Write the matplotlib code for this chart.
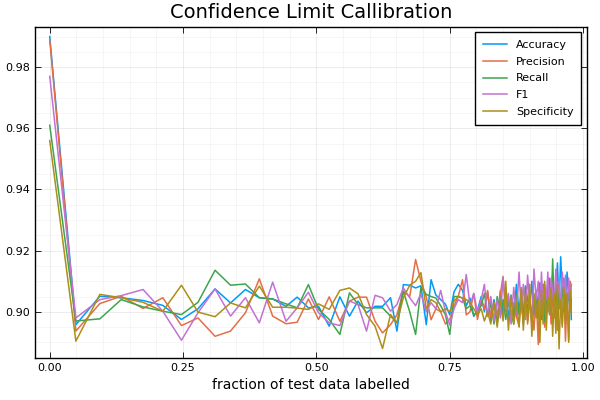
import matplotlib
matplotlib.use("Agg")
import matplotlib.pyplot as plt
from matplotlib.ticker import MultipleLocator

# fraction of test data labelled (x positions of each confidence limit)
frac = [0.000, 0.049, 0.094, 0.134, 0.175, 0.212, 0.247, 0.278, 0.310, 0.339,
        0.367, 0.393, 0.418, 0.443, 0.464, 0.485, 0.504, 0.524, 0.544, 0.562,
        0.578, 0.594, 0.610, 0.624, 0.639, 0.651, 0.663, 0.675, 0.686, 0.696,
        0.706, 0.715, 0.724, 0.733, 0.742, 0.750, 0.758, 0.766, 0.774, 0.781,
        0.788, 0.795, 0.802, 0.809, 0.815, 0.821, 0.827, 0.833, 0.839, 0.845,
        0.850, 0.855, 0.860, 0.865, 0.870, 0.875, 0.880, 0.884, 0.888, 0.892,
        0.896, 0.900, 0.904, 0.908, 0.912, 0.916, 0.919, 0.922, 0.925, 0.928,
        0.931, 0.934, 0.937, 0.940, 0.943, 0.946, 0.949, 0.952, 0.955, 0.958,
        0.961, 0.964, 0.967, 0.970, 0.973, 0.976, 0.978]

accuracy = [0.9900, 0.8958, 0.9051, 0.9046, 0.9037, 0.9021, 0.8975, 0.9010, 0.9075, 0.9029,
            0.9073, 0.9046, 0.9042, 0.9018, 0.9048, 0.9013, 0.9018, 0.8953, 0.9049, 0.8986,
            0.9035, 0.8997, 0.9018, 0.9018, 0.9046, 0.8937, 0.9089, 0.9087, 0.9078, 0.9085,
            0.8958, 0.9105, 0.9055, 0.9040, 0.9025, 0.8990, 0.9065, 0.9090, 0.9070, 0.9020,
            0.9045, 0.8985, 0.9005, 0.9050, 0.9000, 0.9065, 0.8970, 0.9040, 0.8960, 0.9070,
            0.8990, 0.9080, 0.8975, 0.9055, 0.8985, 0.9090, 0.9000, 0.9070, 0.8960, 0.9085,
            0.9040, 0.9010, 0.9100, 0.8990, 0.9060, 0.9020, 0.9095, 0.8975, 0.9050, 0.9080,
            0.8995, 0.9110, 0.9030, 0.9065, 0.9120, 0.9015, 0.9060, 0.9160, 0.9010, 0.9180,
            0.9070, 0.9110, 0.8990, 0.9130, 0.9060, 0.9095, 0.8975]

precision = [0.9890, 0.8937, 0.9027, 0.9051, 0.9011, 0.9046, 0.8955, 0.8980, 0.8920, 0.8937,
             0.8997, 0.9108, 0.8986, 0.8961, 0.8966, 0.9042, 0.8975, 0.9049, 0.8969, 0.9035,
             0.9048, 0.9048, 0.8969, 0.8931, 0.8958, 0.8990, 0.9067, 0.9050, 0.9171, 0.9100,
             0.9049, 0.8974, 0.9010, 0.9000, 0.8960, 0.8975, 0.9020, 0.9050, 0.9105, 0.8990,
             0.9000, 0.9060, 0.8975, 0.9040, 0.9010, 0.9070, 0.8980, 0.9030, 0.8990, 0.9060,
             0.9116, 0.9000, 0.9050, 0.8970, 0.9030, 0.8985, 0.8953, 0.9040, 0.8990, 0.9080,
             0.8960, 0.9030, 0.9000, 0.8940, 0.9060, 0.8893, 0.9050, 0.8990, 0.9090, 0.8950,
             0.9040, 0.9000, 0.9100, 0.8960, 0.9060, 0.8980, 0.9030, 0.8940, 0.9070, 0.9010,
             0.8960, 0.9080, 0.8904, 0.9060, 0.8907, 0.9100, 0.9020]

recall = [0.9610, 0.8970, 0.8977, 0.9040, 0.9016, 0.9002, 0.8991, 0.9031, 0.9136, 0.9087,
          0.9091, 0.9046, 0.9042, 0.9026, 0.9013, 0.9089, 0.9008, 0.8975, 0.8926, 0.9062,
          0.9024, 0.9013, 0.9013, 0.9013, 0.8986, 0.8964, 0.9067, 0.9000, 0.8926, 0.9080,
          0.9057, 0.9050, 0.9045, 0.9020, 0.8990, 0.8926, 0.9050, 0.9050, 0.9045, 0.9010,
          0.9020, 0.8990, 0.9000, 0.9020, 0.9060, 0.8985, 0.9030, 0.8960, 0.9050, 0.8990,
          0.9040, 0.8975, 0.9030, 0.9000, 0.8960, 0.9060, 0.8990, 0.9030, 0.8970, 0.9080,
          0.9000, 0.9050, 0.8960, 0.9030, 0.9070, 0.8980, 0.9040, 0.9000, 0.9090, 0.8970,
          0.9050, 0.9010, 0.9110, 0.9000, 0.9173, 0.9020, 0.9080, 0.8990, 0.9060, 0.9020,
          0.9090, 0.9000, 0.9050, 0.9010, 0.9070, 0.9000, 0.9040]

f1 = [0.9770, 0.8980, 0.9040, 0.9053, 0.9073, 0.9002, 0.8907, 0.8997, 0.9075, 0.8986,
      0.9046, 0.8964, 0.9097, 0.8969, 0.9013, 0.9064, 0.8997, 0.8964, 0.8955, 0.9035,
      0.9024, 0.8937, 0.9054, 0.9046, 0.9002, 0.9024, 0.9078, 0.9046, 0.9020, 0.9060,
      0.9000, 0.9030, 0.9010, 0.9070, 0.9000, 0.8957, 0.9010, 0.9040, 0.9030, 0.9122,
      0.9020, 0.9060, 0.9000, 0.9040, 0.9090, 0.8985, 0.9050, 0.8970, 0.9040, 0.8980,
      0.9110, 0.9010, 0.9060, 0.8960, 0.9080, 0.8990, 0.9130, 0.9010, 0.9090, 0.8975,
      0.9120, 0.9030, 0.8960, 0.9140, 0.9040, 0.9100, 0.8990, 0.9130, 0.9020, 0.9090,
      0.9040, 0.9130, 0.9000, 0.9110, 0.9070, 0.9020, 0.9140, 0.9050, 0.9100, 0.9000,
      0.9130, 0.9060, 0.9120, 0.8990, 0.9110, 0.9040, 0.9090]

specificity = [0.9560, 0.8904, 0.9057, 0.9046, 0.9031, 0.9002, 0.9087, 0.8999, 0.8984, 0.9029,
               0.9013, 0.9084, 0.9015, 0.9015, 0.9012, 0.9008, 0.9026, 0.9008, 0.9070, 0.9078,
               0.9059, 0.8991, 0.8953, 0.8880, 0.8991, 0.8964, 0.9046, 0.9087, 0.9100, 0.9128,
               0.9010, 0.9040, 0.9030, 0.9000, 0.9010, 0.9000, 0.9035, 0.9050, 0.9045, 0.9040,
               0.9030, 0.9010, 0.8990, 0.9010, 0.8970, 0.9000, 0.8960, 0.9030, 0.8950, 0.9040,
               0.8970, 0.9100, 0.8940, 0.9050, 0.8960, 0.9030, 0.8950, 0.9080, 0.8940, 0.9060,
               0.8970, 0.9090, 0.8920, 0.9060, 0.8980, 0.9040, 0.8900, 0.9070, 0.8960, 0.9100,
               0.8940, 0.9050, 0.8990, 0.9080, 0.8920, 0.9060, 0.8930, 0.9090, 0.8879, 0.9040,
               0.8950, 0.9080, 0.8960, 0.9060, 0.8900, 0.9070, 0.9000]

series = [("Accuracy", accuracy, "#009AFA"),
          ("Precision", precision, "#E36F47"),
          ("Recall", recall, "#3EA44E"),
          ("F1", f1, "#C371D2"),
          ("Specificity", specificity, "#AC8E18")]

fig = plt.figure(figsize=(6, 4), dpi=100)
ax = fig.add_axes([0.058, 0.105, 0.920, 0.828])

for name, vals, col in series:
    ax.plot(frac, vals, color=col, linewidth=1.1, label=name)

ax.set_xlim(-0.028, 1.007)
ax.set_ylim(0.8849, 0.9932)
ax.xaxis.set_major_locator(MultipleLocator(0.25))
ax.xaxis.set_minor_locator(MultipleLocator(0.05))
ax.yaxis.set_major_locator(MultipleLocator(0.02))
ax.yaxis.set_minor_locator(MultipleLocator(0.005))
ax.xaxis.set_major_formatter(matplotlib.ticker.FormatStrFormatter("%.2f"))
ax.yaxis.set_major_formatter(matplotlib.ticker.FormatStrFormatter("%.2f"))

ax.grid(which="major", color="black", alpha=0.1, linewidth=0.5)
ax.grid(which="minor", color="black", alpha=0.05, linewidth=0.5)
ax.tick_params(which="major", direction="in", length=4, width=0.6, labelsize=8,
               top=True, right=True, labeltop=False, labelright=False)
ax.tick_params(which="minor", length=0)
for s in ax.spines.values():
    s.set_linewidth(1.0)

ax.set_title("Confidence Limit Callibration", fontsize=14)
ax.set_xlabel("fraction of test data labelled", fontsize=10)

leg = ax.legend(loc="upper right", fontsize=8, fancybox=False, framealpha=1,
                edgecolor="black", handlelength=2.2, borderpad=0.7,
                labelspacing=0.6)
leg.get_frame().set_linewidth(1.0)

fig.savefig("out.png", dpi=100)
